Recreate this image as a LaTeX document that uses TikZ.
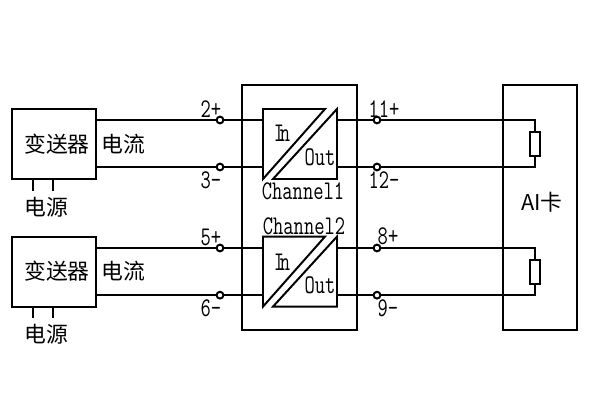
\documentclass[tikz,border=0pt]{standalone}
\usepackage{graphicx}
\usepackage{fontspec}
\newfontfamily\cjk{Noto Sans CJK SC}
\usetikzlibrary{positioning, calc}

\newcommand{\tall}[1]{\scalebox{1}[1.35]{#1}}

\tikzset{
    wire/.style = {line width=1.4pt},
    box/.style = {draw, line width=1.4pt, rectangle, inner sep=0pt, outer sep=0pt},
    sender/.style = {box, minimum width=2.1cm, minimum height=1.75cm},
    bigbox/.style = {box, minimum width=2.875cm, minimum height=6.125cm},
    aibox/.style = {box, minimum width=1.85cm, minimum height=6.125cm},
    chan/.style = {rectangle, inner sep=0pt, outer sep=0pt, minimum width=1.85cm, minimum height=1.75cm},
    res/.style = {box, fill=white, minimum width=.23cm, minimum height=.6cm},
    term/.style = {draw, circle, line width=1.4pt, fill=white, inner sep=0pt, outer sep=0pt, minimum size=.17cm},
    zh/.style = {inner sep=0pt, font=\cjk\fontsize{15.5}{16}\selectfont},
    pin/.style = {inner sep=0pt, font=\ttfamily\fontsize{14.2}{15}\selectfont},
}

\begin{document}
\begin{tikzpicture} [on grid]
        \useasboundingbox (0,0) rectangle (15,-10);

        \node (sendA) [sender] at (1.35,-3.6) {};
        \node (sendB) [sender, below = 3.19 of sendA] {};
        \node (hub) [bigbox, below right = 1.59 and 6.14 of sendA] {};
        \node (ai) [aibox, right = 6 of hub] {};
        \node (chanA) [chan, right = 6.15 of sendA] {};
        \node (chanB) [chan, right = 6.15 of sendB] {};
        \node (resA) [res, right = 5.875 of chanA] {};
        \node (resB) [res, right = 5.875 of chanB] {};

        % the two halves of each channel block
        \foreach \c in {chanA, chanB} {
            \draw [wire] (\c.north west) -- ($(\c.north west)+(1.55,0)$) -- (\c.south west) -- cycle;
            \draw [wire] (\c.north east) -- (\c.south east) -- ($(\c.south east)+(-1.6,0)$) -- cycle;
        }

        \node (t2) [term, above right = .6 and 4.15 of sendA] {};
        \node (t3) [term, below right = .575 and 4.15 of sendA] {};
        \node (t5) [term, above right = .59 and 4.15 of sendB] {};
        \node (t6) [term, below right = .59 and 4.15 of sendB] {};
        \node (t11) [term, above right = .6 and 1.925 of chanA] {};
        \node (t12) [term, below right = .575 and 1.925 of chanA] {};
        \node (t8) [term, above right = .59 and 1.925 of chanB] {};
        \node (t9) [term, below right = .59 and 1.925 of chanB] {};

        \draw [wire] (t2 -| sendA.east) -- (t2);
        \draw [wire] (t2) -- (t2 -| chanA.west);
        \draw [wire] (t3 -| sendA.east) -- (t3);
        \draw [wire] (t3) -- (t3 -| chanA.west);
        \draw [wire] (t5 -| sendB.east) -- (t5);
        \draw [wire] (t5) -- (t5 -| chanB.west);
        \draw [wire] (t6 -| sendB.east) -- (t6);
        \draw [wire] (t6) -- (t6 -| chanB.west);

        \draw [wire] (t11 -| chanA.east) -- (t11);
        \draw [wire] (t11) -| (resA.north);
        \draw [wire] (t12 -| chanA.east) -- (t12);
        \draw [wire] (t12) -| (resA.south);
        \draw [wire] (t8 -| chanB.east) -- (t8);
        \draw [wire] (t8) -| (resB.north);
        \draw [wire] (t9 -| chanB.east) -- (t9);
        \draw [wire] (t9) -| (resB.south);

        % power stubs under the transmitters
        \foreach \s in {sendA, sendB} {
            \coordinate (\s l) at ($(\s.south west)+(.525,0)$);
            \coordinate (\s r) at ($(\s.south west)+(1.025,0)$);
            \draw [wire] (\s l) -- ++(0,-.29);
            \draw [wire] (\s r) -- ++(0,-.29);
        }

        \node (txtA) [zh, right = .075 of sendA] {变送器};
        \node (txtB) [zh, right = .075 of sendB] {变送器};
        \node (curA) [zh, right = 1.725 of sendA] {电流};
        \node (curB) [zh, right = 1.725 of sendB] {电流};
        \node (powA) [zh, below left = 1.575 and .2 of sendA] {电源};
        \node (powB) [zh, below left = 1.575 and .2 of sendB] {电源};
        \node (aitxt) [zh, above right = .125 and .06 of ai] {AI卡};

        \node (lab2) [pin, above left = .275 and .225 of t2] {\tall{2+}};
        \node (lab3) [pin, below left = .325 and .225 of t3] {\tall{3-}};
        \node (lab5) [pin, above left = .275 and .225 of t5] {\tall{5+}};
        \node (lab6) [pin, below left = .325 and .225 of t6] {\tall{6-}};
        \node (lab11) [pin, above right = .275 and .175 of t11] {\tall{11+}};
        \node (lab12) [pin, below right = .325 and .175 of t12] {\tall{12-}};
        \node (lab8) [pin, above right = .3 and .275 of t8] {\tall{8+}};
        \node (lab9) [pin, below right = .325 and .275 of t9] {\tall{9-}};

        \node (inA) [pin, above left = .275 and .45 of chanA] {\tall{I\kern-3pt n}};
        \node (inB) [pin, above left = .24 and .45 of chanB] {\tall{I\kern-3pt n}};
        \node (outA) [pin, below right = .325 and .5 of chanA] {\tall{Out}};
        \node (outB) [pin, below right = .34 and .5 of chanB] {\tall{Out}};
        \node (nameA) [pin, below right = 1.175 and .075 of chanA] {\tall{Channel1}};
        \node (nameB) [pin, above right = 1.14 and .1 of chanB] {\tall{Channel2}};
    \end{tikzpicture}
\end{document}
